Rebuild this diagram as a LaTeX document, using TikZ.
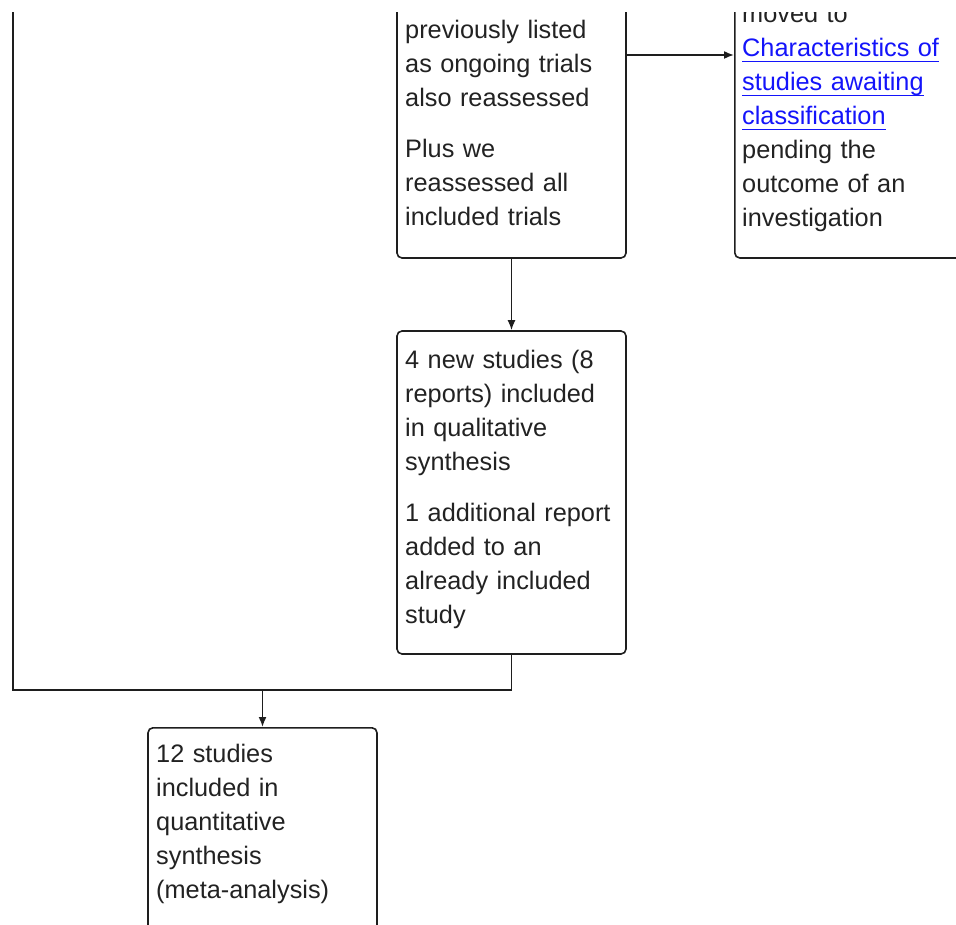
\documentclass[tikz,border=0pt]{standalone}
\usepackage{fontspec}
\setmainfont{Liberation Sans}
\usetikzlibrary{arrows.meta}
\definecolor{linecol}{HTML}{1E1E1E}
\definecolor{txtcol}{HTML}{222222}
\definecolor{linkblue}{RGB}{20,20,250}
\newcommand\lnkline[1]{\leavevmode{\color{linkblue}\setbox0\hbox{#1}\rlap{\rule[-5pt]{\wd0}{1.3pt}}\box0}}
\tikzset{
  boxnode/.style={draw=linecol, line width=1.6pt, rounded corners=5pt, rectangle, inner sep=0pt},
  txt/.style={anchor=base west, inner sep=0pt, text width=222pt, align=left, text=txtcol,
              font=\fontsize{25.3}{34}\selectfont},
  conn/.style={draw=linecol, line width=1.6pt},
  arr/.style={conn, -{Latex[length=10pt,width=8pt]}}
}
\begin{document}
\begin{tikzpicture}[x=1pt,y=-1pt]
\useasboundingbox (0,0) rectangle (956,925);
\clip (0,13) rectangle (956,925);
% boxes
\node[boxnode, minimum width=229pt, minimum height=406pt] (b1) at (511.5,55) {};
\node[boxnode, minimum width=300pt, minimum height=406pt, anchor=west] (b2) at (734,55) {};
\node[boxnode, minimum width=229pt, minimum height=323pt] (b3) at (511.5,492.5) {};
\node[boxnode, minimum width=229pt, minimum height=300pt, anchor=north] (b4) at (262.5,727) {};
% texts
\node[txt] (t1) at (405,39) {previously listed\\as ongoing trials\\also reassessed};
\node[txt] (t1b) at (405,158) {Plus we\\reassessed all\\included trials};
\node[txt] (t2) at (742,23) {moved to\\
\lnkline{Characteristics of}\\
\lnkline{studies awaiting}\\
\lnkline{classification}\\
pending the\\outcome of an\\investigation};
\node[txt] (t3) at (405,368) {4 new studies (8\\reports) included\\in qualitative\\synthesis};
\node[txt] (t3b) at (405,521) {1 additional report\\added to an\\already included\\study};
\node[txt] (t4) at (156,762) {12 studies\\included in\\quantitative\\synthesis\\(meta-analysis)};
% connectors
\coordinate (lc) at (13,690);
\coordinate (ltop) at (13,-50);
\coordinate (jn) at (262.5,690);
\draw[arr] (b1.east) -- (b2.west);
\draw[arr] (b1.south) -- (b3.north);
\draw[conn] (b3.south) |- (lc) -- (ltop);
\draw[arr] (jn) -- (b4.north);
\end{tikzpicture}
\end{document}
